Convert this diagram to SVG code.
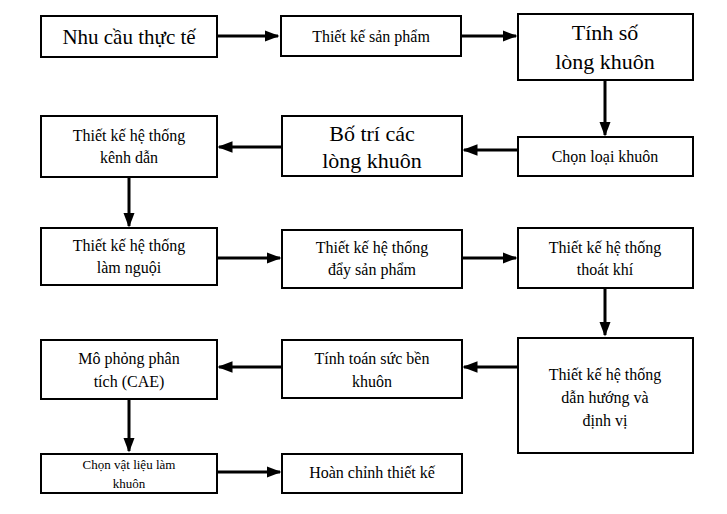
<svg xmlns="http://www.w3.org/2000/svg" width="727" height="514" viewBox="0 0 727 514">
<style>
rect{fill:#fff;stroke:#000;stroke-width:2}
text{font-family:"Liberation Serif",serif;fill:#000;text-anchor:middle}
.m{font-size:16px}.l{font-size:22px}.s{font-size:13px}
#conn line{stroke:#000;stroke-width:3}
</style>
<defs><marker id="a" markerWidth="5" markerHeight="5" refX="4.5" refY="2.5" orient="auto" markerUnits="strokeWidth"><path d="M0,0.6L5,2.5L0,4.4z" fill="#000"/></marker></defs>
<rect x="0" y="0" width="727" height="514" style="stroke:none"/>
<g id="conn">
<line x1="217" y1="36" x2="278" y2="36" marker-end="url(#a)"/>
<line x1="461" y1="36" x2="516" y2="36" marker-end="url(#a)"/>
<line x1="605" y1="80" x2="605" y2="135" marker-end="url(#a)"/>
<line x1="518" y1="150" x2="464" y2="150" marker-end="url(#a)"/>
<line x1="282" y1="147" x2="219" y2="147" marker-end="url(#a)"/>
<line x1="129" y1="177" x2="129" y2="226" marker-end="url(#a)"/>
<line x1="217" y1="258" x2="280" y2="258" marker-end="url(#a)"/>
<line x1="462" y1="258" x2="516" y2="258" marker-end="url(#a)"/>
<line x1="605" y1="288" x2="605" y2="335" marker-end="url(#a)"/>
<line x1="518" y1="367" x2="464" y2="367" marker-end="url(#a)"/>
<line x1="282" y1="367" x2="219" y2="367" marker-end="url(#a)"/>
<line x1="129" y1="399" x2="129" y2="451" marker-end="url(#a)"/>
<line x1="217" y1="472" x2="280" y2="472" marker-end="url(#a)"/>
</g>
<g id="n1"><rect x="41" y="16" width="176" height="41"/><text class="l" x="129" y="44" style="font-size:21px">Nhu cầu thực tế</text></g>
<g id="n2"><rect x="281" y="16" width="180" height="40"/><text class="m" x="371" y="42">Thiết kế sản phẩm</text></g>
<g id="n3"><rect x="518" y="14" width="175" height="66"/><text class="l" x="605" y="40">Tính số</text><text class="l" x="605" y="69">lòng khuôn</text></g>
<g id="n4"><rect x="518" y="137" width="175" height="39"/><text class="m" x="605" y="162">Chọn loại khuôn</text></g>
<g id="n5"><rect x="282" y="116" width="180" height="60"/><text class="l" x="372" y="141">Bố trí các</text><text class="l" x="372" y="168">lòng khuôn</text></g>
<g id="n6"><rect x="41" y="116" width="176" height="61"/><text class="m" x="129" y="141">Thiết kế hệ thống</text><text class="m" x="129" y="163">kênh dẫn</text></g>
<g id="n7"><rect x="41" y="228" width="176" height="57"/><text class="m" x="129" y="251">Thiết kế hệ thống</text><text class="m" x="129" y="273">làm nguội</text></g>
<g id="n8"><rect x="282" y="230" width="180" height="58"/><text class="m" x="372" y="253">Thiết kế hệ thống</text><text class="m" x="372" y="275">đẩy sản phẩm</text></g>
<g id="n9"><rect x="518" y="228" width="175" height="60"/><text class="m" x="605" y="253">Thiết kế hệ thống</text><text class="m" x="605" y="275">thoát khí</text></g>
<g id="n10"><rect x="518" y="338" width="175" height="115"/><text class="m" x="605" y="380">Thiết kế hệ thống</text><text class="m" x="605" y="403">dẫn hướng và</text><text class="m" x="605" y="426">định vị</text></g>
<g id="n11"><rect x="282" y="340" width="180" height="58"/><text class="m" x="372" y="364">Tính toán sức bền</text><text class="m" x="372" y="387">khuôn</text></g>
<g id="n12"><rect x="41" y="340" width="176" height="59"/><text class="m" x="129" y="364">Mô phỏng phân</text><text class="m" x="129" y="387">tích (CAE)</text></g>
<g id="n13"><rect x="41" y="454" width="176" height="39"/><text class="s" x="129" y="469">Chọn vật liệu làm</text><text class="s" x="129" y="488">khuôn</text></g>
<g id="n14"><rect x="282" y="454" width="180" height="39"/><text class="m" x="372" y="478">Hoàn chỉnh thiết kế</text></g>
</svg>
